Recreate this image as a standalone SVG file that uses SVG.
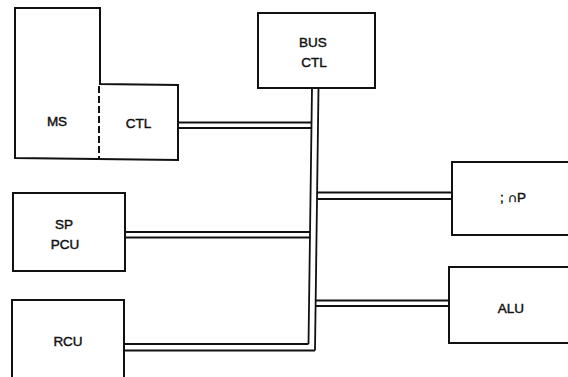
<svg xmlns="http://www.w3.org/2000/svg" width="568" height="377" viewBox="0 0 568 377">
<style>
.box{fill:none;stroke:#111;stroke-width:2;stroke-linejoin:miter}
.dash{fill:none;stroke:#111;stroke-width:2;stroke-dasharray:7 3}
.bus{fill:none;stroke:#111;stroke-width:1.8}
.t{font-family:"Liberation Sans",Arial,sans-serif;font-size:13.5px;fill:#111;stroke:#111;stroke-width:0.45;text-anchor:middle}
</style>
<rect width="568" height="377" fill="#fff"/>
<g id="connectors">
  <line class="bus" x1="312" y1="88" x2="308.5" y2="344"/>
  <line class="bus" x1="318.5" y1="88" x2="315" y2="350.5"/>
  <line class="bus" x1="123" y1="344" x2="308.5" y2="344"/>
  <line class="bus" x1="123" y1="350.5" x2="315" y2="350.5"/>
  <line class="bus" x1="178" y1="122.5" x2="311" y2="122.5"/>
  <line class="bus" x1="178" y1="128" x2="311" y2="128"/>
  <line class="bus" x1="125" y1="232" x2="310" y2="232"/>
  <line class="bus" x1="125" y1="237.5" x2="310" y2="237.5"/>
  <line class="bus" x1="317.5" y1="192.5" x2="452" y2="192.5"/>
  <line class="bus" x1="317.5" y1="199" x2="452" y2="199"/>
  <line class="bus" x1="316" y1="300.5" x2="449" y2="300.5"/>
  <line class="bus" x1="316" y1="306" x2="449" y2="306"/>
</g>
<g id="ms-ctl">
  <path class="box" d="M15,8 L100,8 L100,84 L178,85 L178,160 L15,158 Z"/>
  <line class="dash" x1="99" y1="86" x2="99" y2="158"/>
  <text class="t" x="57" y="126">MS</text>
  <text class="t" x="138.5" y="128">CTL</text>
</g>
<g id="bus-ctl">
  <rect class="box" x="258" y="13" width="117" height="75"/>
  <text class="t" x="313" y="47">BUS</text>
  <text class="t" x="314" y="67">CTL</text>
</g>
<g id="sp-pcu">
  <rect class="box" x="13" y="193" width="112" height="78"/>
  <text class="t" x="64" y="229">SP</text>
  <text class="t" x="65" y="249">PCU</text>
</g>
<g id="rcu">
  <path class="box" d="M12,380 L12,300 L124,300 L124,380"/>
  <text class="t" x="68" y="346">RCU</text>
</g>
<g id="lop">
  <path class="box" d="M575,162 L452,162 L452,235 L575,235"/>
  <text class="t" x="513" y="202">; ∩P</text>
</g>
<g id="alu">
  <path class="box" d="M575,267 L449,267 L449,343 L575,343"/>
  <text class="t" x="511" y="313">ALU</text>
</g>
</svg>
